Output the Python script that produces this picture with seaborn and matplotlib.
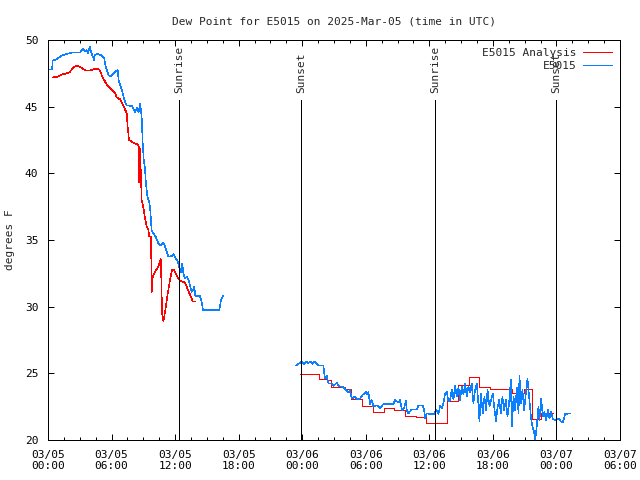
import pandas as pd
import matplotlib
matplotlib.use('Agg')
import matplotlib.pyplot as plt
import matplotlib.dates as mdates
import seaborn as sns

# Dew point, E5015, 2025-03-05 (UTC). Times in hours after 03/05 00:00

# observed, first stretch
obs1_hours = [0.0, 0.39, 0.44, 0.79, 1.23, 1.52, 2.21, 3.0, 3.34, 3.49, 3.64, 3.78,
              3.93, 4.18, 4.37, 4.42, 4.72, 5.06, 5.31, 5.45, 5.7, 5.85, 6.19, 6.39,
              6.58, 6.68, 6.98, 7.17, 7.42, 7.91, 8.21, 8.4, 8.55, 8.7, 8.84, 8.94,
              9.04, 9.14, 9.24, 9.38, 9.58, 9.68, 9.78, 9.93, 10.17, 10.42, 10.61, 10.91,
              11.06, 11.35, 11.69, 11.84, 12.09, 12.23, 12.38, 12.53, 12.68, 12.78, 12.92, 13.12,
              13.27, 13.41, 13.56, 13.76, 13.81, 13.91, 14.35, 14.49, 14.64, 16.17, 16.31, 16.51]
obs1_vals = [47.8, 47.8, 48.45, 48.55, 48.8, 48.9, 49.05, 49.05, 49.35, 49.15, 49.25, 49.0,
             49.5, 48.85, 48.5, 48.9, 48.95, 48.85, 48.6, 48.0, 47.4, 47.25, 47.5, 47.65,
             47.75, 46.9, 46.25, 45.6, 45.1, 45.05, 44.6, 44.9, 44.55, 45.2, 44.25, 42.25,
             41.0, 40.5, 39.25, 38.25, 37.75, 37.0, 35.75, 35.5, 35.25, 34.75, 34.6, 34.8,
             34.5, 33.75, 33.8, 33.95, 33.6, 33.4, 33.0, 32.6, 33.25, 32.5, 32.1, 32.25,
             32.0, 31.6, 31.1, 31.3, 31.5, 30.8, 30.8, 30.4, 29.75, 29.75, 30.4, 30.8]

# observed, second stretch
obs2_hours = [23.42, 23.8, 23.98, 24.17, 24.37, 24.57, 24.76, 24.96, 25.16, 25.35, 25.55, 26.0,
              26.06, 26.16, 26.32, 26.47, 26.79, 26.95, 27.26, 27.42, 27.89, 28.05, 28.36, 28.52,
              28.67, 28.99, 29.15, 29.46, 29.72, 30.03, 30.15, 30.25, 30.4, 30.56, 30.72, 31.04,
              31.35, 31.66, 32.61, 32.76, 33.08, 33.24, 33.4, 33.62, 33.8, 33.87, 34.02, 34.35,
              34.82, 34.97, 35.39, 35.51, 35.6, 35.76, 36.01, 36.45, 36.63, 36.86, 37.02, 37.18,
              37.33, 37.49, 37.65, 37.8, 37.96, 38.12, 38.28, 38.43, 38.59, 38.75, 38.9, 39.06,
              39.22, 39.38, 39.53, 39.69, 39.85, 40.0, 40.16, 40.32, 40.48, 40.63, 40.73, 40.86,
              41.05, 41.2, 41.36, 41.49, 41.68, 41.8, 42.0, 42.15, 42.3, 42.43, 42.59, 42.75,
              42.9, 43.06, 43.22, 43.38, 43.53, 43.69, 43.79, 43.95, 44.1, 44.26, 44.42, 44.51,
              44.64, 44.79, 44.95, 45.11, 45.26, 45.42, 45.59, 45.73, 45.89, 45.99, 46.15, 46.3,
              46.39, 46.56, 46.72, 46.86, 47.03, 47.19, 47.34, 47.5, 47.66, 47.81, 47.98, 48.19,
              48.42, 48.6, 48.82, 49.29]
obs2_vals = [25.6, 25.8, 25.9, 25.7, 25.9, 25.75, 25.9, 25.7, 25.9, 25.75, 25.6, 25.6,
             25.1, 24.6, 24.8, 24.25, 24.25, 24.05, 24.3, 24.05, 23.95, 23.8, 23.55, 23.75,
             23.1, 23.25, 23.05, 23.1, 23.4, 23.6, 23.4, 23.6, 22.7, 23.0, 22.5, 22.6,
             22.4, 22.7, 22.7, 23.0, 22.8, 23.0, 22.25, 22.4, 22.95, 22.25, 22.0, 22.3,
             22.3, 22.6, 22.6, 22.2, 21.6, 22.0, 21.95, 21.95, 22.3, 21.95, 22.55, 22.4,
             22.75, 23.5, 23.6, 22.9, 23.0, 23.75, 23.05, 24.1, 23.25, 23.9, 23.0, 24.0,
             23.4, 24.25, 23.25, 24.0, 23.6, 24.25, 22.75, 23.75, 24.25, 22.75, 21.4, 23.5,
             22.0, 23.25, 22.25, 23.75, 22.5, 22.9, 23.5, 22.25, 21.4, 22.4, 23.0, 22.0,
             23.25, 22.25, 23.0, 21.75, 22.75, 24.5, 21.0, 23.25, 22.25, 23.9, 22.0, 24.85,
             22.75, 23.75, 22.25, 23.5, 24.6, 23.25, 21.75, 21.0, 20.6, 20.0, 21.1, 22.5,
             21.5, 23.1, 21.75, 22.1, 21.5, 22.25, 21.6, 22.1, 21.6, 21.5, 21.55, 21.6,
             21.4, 21.3, 21.95, 22.0]

# analysis, first stretch
ana1_hours = [0.47, 0.97, 1.23, 1.77, 2.07, 2.39, 2.71, 2.86, 3.18, 3.56, 3.97, 4.27,
              4.75, 4.91, 5.13, 5.44, 5.69, 6.01, 6.33, 6.49, 6.8, 7.11, 7.43, 7.53,
              7.65, 8.06, 8.37, 8.53, 8.6, 8.65, 8.75, 8.84, 8.99, 9.14, 9.32, 9.47,
              9.56, 9.7, 9.76, 9.79, 9.89, 10.1, 10.42, 10.64, 10.7, 10.77, 10.89, 11.05,
              11.26, 11.52, 11.71, 11.9, 12.16, 12.4, 12.63, 12.94, 13.1, 13.35, 13.57, 13.66,
              13.89]
ana1_vals = [47.2, 47.25, 47.4, 47.5, 47.6, 47.95, 48.1, 48.05, 47.9, 47.7, 47.7, 47.8,
             47.85, 47.7, 47.25, 46.8, 46.5, 46.3, 46.0, 45.7, 45.55, 45.1, 44.5, 43.4,
             42.5, 42.3, 42.2, 42.1, 39.3, 42.0, 40.4, 38.0, 37.5, 36.75, 36.0, 35.75,
             35.25, 35.25, 33.25, 31.1, 32.25, 32.6, 33.0, 33.6, 32.0, 29.5, 28.9, 29.6,
             30.75, 32.0, 32.8, 32.75, 32.3, 32.0, 31.9, 31.8, 31.5, 31.0, 30.6, 30.4,
             30.4]

# analysis, second stretch (hourly steps)
ana2_hours = [23.78, 25.62, 26.32, 26.7, 28.07, 28.59, 29.62, 30.66, 31.74, 32.68, 33.71, 34.75,
              35.69, 37.64, 38.75, 39.79, 40.68, 41.77, 43.79, 44.89, 45.72, 46.58, 47.71]
ana2_vals = [24.95, 24.6, 24.5, 23.95, 23.8, 23.1, 22.55, 22.1, 22.4, 22.25, 21.8, 21.7,
             21.3, 22.9, 24.1, 24.7, 24.0, 23.8, 23.5, 23.8, 21.6, 22.0, 22.0]

sun_labels = ['Sunrise', 'Sunset', 'Sunrise', 'Sunset']
sun_times = ['2025-03-05 12:24', '2025-03-05 23:53', '2025-03-06 12:34', '2025-03-06 23:58']

start = pd.Timestamp('2025-03-05 00:00')
end = pd.Timestamp('2025-03-07 06:00')


def make_df(hours, vals):
    return pd.DataFrame({'time': start + pd.to_timedelta(hours, unit='h'), 'dewpt': vals})


red = '#ff0000'
blue = '#0a80ff'
px = 0.72  # one pixel at 100 dpi
thin = 0.4  # aliased data lines, drawn one pixel wide

sns.set_style('ticks')
plt.rcParams['font.family'] = ['DejaVu Sans Mono']
plt.rcParams['font.size'] = 8
plt.rcParams['lines.antialiased'] = False

fig = plt.figure(figsize=(6.4, 4.8), dpi=100)
ax = fig.add_axes([48 / 640, 40 / 480, 572 / 640, 400 / 480])

sns.lineplot(data=make_df(ana1_hours, ana1_vals), x='time', y='dewpt', color=red, lw=thin,
             ax=ax, label='E5015 Analysis')
sns.lineplot(data=make_df(ana2_hours, ana2_vals), x='time', y='dewpt', color=red, lw=thin,
             ax=ax, drawstyle='steps-post')
sns.lineplot(data=make_df(obs1_hours, obs1_vals), x='time', y='dewpt', color=blue, lw=thin,
             ax=ax, label='E5015')
sns.lineplot(data=make_df(obs2_hours, obs2_vals), x='time', y='dewpt', color=blue, lw=thin,
             ax=ax)

# sunrise / sunset markers
for lab, t in zip(sun_labels, sun_times):
    t = pd.Timestamp(t)
    ax.vlines(t, 20, 45.5, color='black', lw=px, antialiased=False)
    ax.text(t, 46.0, lab, rotation=90, ha='center', va='bottom', fontsize=8)

ax.set_xlim(start, end)
ax.set_ylim(20, 50)
ax.set_yticks([20, 25, 30, 35, 40, 45, 50])
ax.xaxis.set_major_locator(mdates.HourLocator(byhour=[0, 6, 12, 18]))
ax.xaxis.set_major_formatter(mdates.DateFormatter('%m/%d\n%H:%M'))
minor = pd.date_range(start, end, freq='90min')
ax.set_xticks(mdates.date2num(minor), minor=True)

ax.tick_params(which='both', direction='in', top=True, right=True, colors='black',
               labelsize=8, width=px)
ax.tick_params(which='major', length=4, pad=7)
ax.tick_params(which='minor', length=2)
for spine in ax.spines.values():
    spine.set_visible(True)
    spine.set_color('black')
    spine.set_linewidth(px)

ax.set_xlabel('')
ax.set_ylabel('degrees F', fontsize=8, labelpad=7)
ax.set_title('Dew Point for E5015 on 2025-Mar-05 (time in UTC)', fontsize=8, pad=11)

leg = ax.legend(loc='upper right', frameon=False, markerfirst=False, fontsize=8,
                handlelength=2.6, handletextpad=0.6, labelspacing=0.3, borderaxespad=0.3)
for h in leg.get_lines():
    h.set_linewidth(px)

fig.savefig('out.png', dpi=100)
